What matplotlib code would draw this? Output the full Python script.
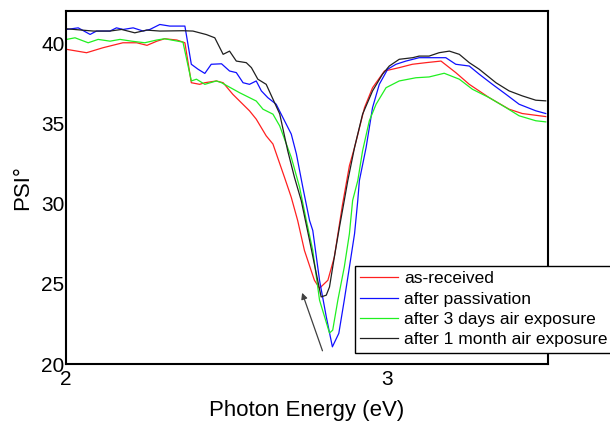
import matplotlib
matplotlib.use("Agg")
import matplotlib.pyplot as plt

plt.rcParams['font.family'] = ['Liberation Sans', 'DejaVu Sans']

# as-received
e_red = [2.002, 2.064, 2.115, 2.177, 2.220, 2.252, 2.283, 2.307, 2.345, 2.370,
         2.390, 2.416, 2.432, 2.468, 2.489, 2.519, 2.571, 2.592, 2.623, 2.644,
         2.680, 2.701, 2.721, 2.742, 2.773, 2.789, 2.815, 2.835, 2.860, 2.882,
         2.898, 2.929, 2.954, 2.991, 3.037, 3.078, 3.120, 3.167, 3.213, 3.255,
         3.317, 3.379, 3.420, 3.493]
psi_red = [39.61, 39.40, 39.71, 40.02, 40.02, 39.86, 40.12, 40.27, 40.19, 40.02,
           37.53, 37.43, 37.53, 37.64, 37.53, 36.81, 35.78, 35.26, 34.22, 33.71,
           31.63, 30.39, 28.94, 27.08, 25.22, 24.72, 25.22, 26.66, 29.88, 32.36,
           33.50, 35.98, 37.22, 38.26, 38.47, 38.68, 38.78, 38.88, 38.16, 37.43,
           36.60, 35.88, 35.61, 35.42]

# after passivation
e_blue = [2.002, 2.038, 2.075, 2.095, 2.137, 2.157, 2.178, 2.209, 2.240, 2.261,
          2.292, 2.323, 2.370, 2.390, 2.411, 2.432, 2.452, 2.484, 2.509, 2.530,
          2.551, 2.571, 2.592, 2.608, 2.628, 2.654, 2.680, 2.701, 2.717, 2.737,
          2.758, 2.768, 2.789, 2.810, 2.829, 2.849, 2.866, 2.882, 2.898, 2.908,
          2.913, 2.934, 2.954, 2.975, 3.001, 3.027, 3.058, 3.099, 3.182, 3.213,
          3.255, 3.286, 3.327, 3.369, 3.410, 3.462, 3.493]
psi_blue = [40.85, 40.95, 40.54, 40.75, 40.75, 40.95, 40.85, 40.95, 40.75, 40.85,
            41.16, 41.06, 41.06, 38.68, 38.37, 38.11, 38.68, 38.71, 38.26, 38.16,
            37.53, 37.43, 37.64, 37.02, 36.60, 36.19, 35.16, 34.33, 33.09, 31.01,
            28.94, 28.32, 25.22, 22.94, 21.07, 21.91, 23.98, 26.04, 28.12, 30.19,
            31.43, 33.50, 35.98, 37.43, 38.37, 38.68, 38.88, 39.09, 39.09, 38.68,
            38.57, 38.06, 37.43, 36.81, 36.19, 35.78, 35.61]

# after 3 days air exposure
e_green = [2.002, 2.028, 2.069, 2.100, 2.137, 2.168, 2.204, 2.245, 2.282, 2.307,
           2.364, 2.390, 2.406, 2.432, 2.468, 2.484, 2.540, 2.592, 2.613, 2.644,
           2.665, 2.701, 2.727, 2.748, 2.768, 2.789, 2.820, 2.830, 2.846, 2.866,
           2.882, 2.892, 2.908, 2.923, 2.944, 2.965, 2.996, 3.037, 3.089, 3.130,
           3.177, 3.224, 3.265, 3.317, 3.369, 3.410, 3.462, 3.493]
psi_green = [40.23, 40.33, 40.02, 40.23, 40.12, 40.23, 40.12, 40.02, 40.19, 40.27,
             40.06, 37.64, 37.75, 37.43, 37.64, 37.53, 36.91, 36.39, 35.88, 35.57,
             34.84, 32.88, 31.01, 28.94, 27.08, 23.98, 21.93, 22.11, 23.98, 26.04,
             28.12, 30.19, 31.43, 33.29, 35.16, 36.19, 37.22, 37.64, 37.84, 37.89,
             38.12, 37.75, 37.12, 36.60, 35.98, 35.47, 35.16, 35.09]

# after 1 month air exposure
e_black = [2.002, 2.085, 2.137, 2.173, 2.214, 2.251, 2.292, 2.364, 2.395, 2.437,
           2.463, 2.489, 2.509, 2.530, 2.561, 2.577, 2.597, 2.623, 2.649, 2.665,
           2.690, 2.711, 2.732, 2.758, 2.779, 2.794, 2.810, 2.820, 2.835, 2.851,
           2.866, 2.877, 2.898, 2.923, 2.954, 2.985, 3.006, 3.037, 3.079, 3.099,
           3.130, 3.161, 3.193, 3.224, 3.255, 3.286, 3.338, 3.379, 3.420, 3.462,
           3.493]
psi_black = [40.89, 40.75, 40.75, 40.85, 40.64, 40.81, 40.75, 40.77, 40.75, 40.53,
             40.33, 39.30, 39.50, 38.88, 38.78, 38.47, 37.75, 37.43, 36.29, 35.59,
             33.29, 31.63, 30.19, 27.70, 25.63, 24.18, 24.29, 24.80, 26.66, 28.53,
             30.19, 31.43, 33.50, 35.57, 37.02, 38.06, 38.57, 38.99, 39.09, 39.19,
             39.19, 39.40, 39.50, 39.30, 38.78, 38.37, 37.53, 37.02, 36.71, 36.44,
             36.40]

labels = ['as-received', 'after passivation',
          'after 3 days air exposure', 'after 1 month air exposure']

fig = plt.figure(figsize=(6.1, 4.23), dpi=100)
ax = fig.add_axes([66 / 610, 59 / 423, 482 / 610, 353 / 423])

ax.plot(e_red, psi_red, color='#ff2020', lw=0.9, label=labels[0])
ax.plot(e_blue, psi_blue, color='#1010ff', lw=0.9, label=labels[1])
ax.plot(e_green, psi_green, color='#20f020', lw=0.9, label=labels[2])
ax.plot(e_black, psi_black, color='#202020', lw=0.9, label=labels[3])

# arrow pointing at the dip
ax.annotate('', xy=(2.732, 24.6), xytext=(2.801, 20.66),
            arrowprops=dict(arrowstyle='-|>', color='#404040', lw=0.9,
                            mutation_scale=9))

ax.set_xlim(2, 3.5)
ax.set_ylim(20, 42)
ax.set_xticks([2, 3])
ax.set_xticklabels(['2', '3'])
ax.set_yticks([20, 25, 30, 35, 40])
ax.tick_params(length=0, labelsize=15, pad=1)
ax.tick_params(axis='x', pad=4)
ax.set_xlabel('Photon Energy (eV)', fontsize=16, labelpad=8)
ax.set_ylabel('PSI°', fontsize=16, labelpad=6)
for s in ax.spines.values():
    s.set_linewidth(1.5)

leg = ax.legend(loc='upper left', bbox_to_anchor=(355 / 610, 157 / 423),
                bbox_transform=fig.transFigure, fontsize=12.5, frameon=True,
                fancybox=False, framealpha=1, edgecolor='black',
                borderaxespad=0, borderpad=0.3, handlelength=2.2,
                handletextpad=0.35, labelspacing=0.3)
leg.get_frame().set_linewidth(1.0)

fig.savefig('out.png', dpi=100)
